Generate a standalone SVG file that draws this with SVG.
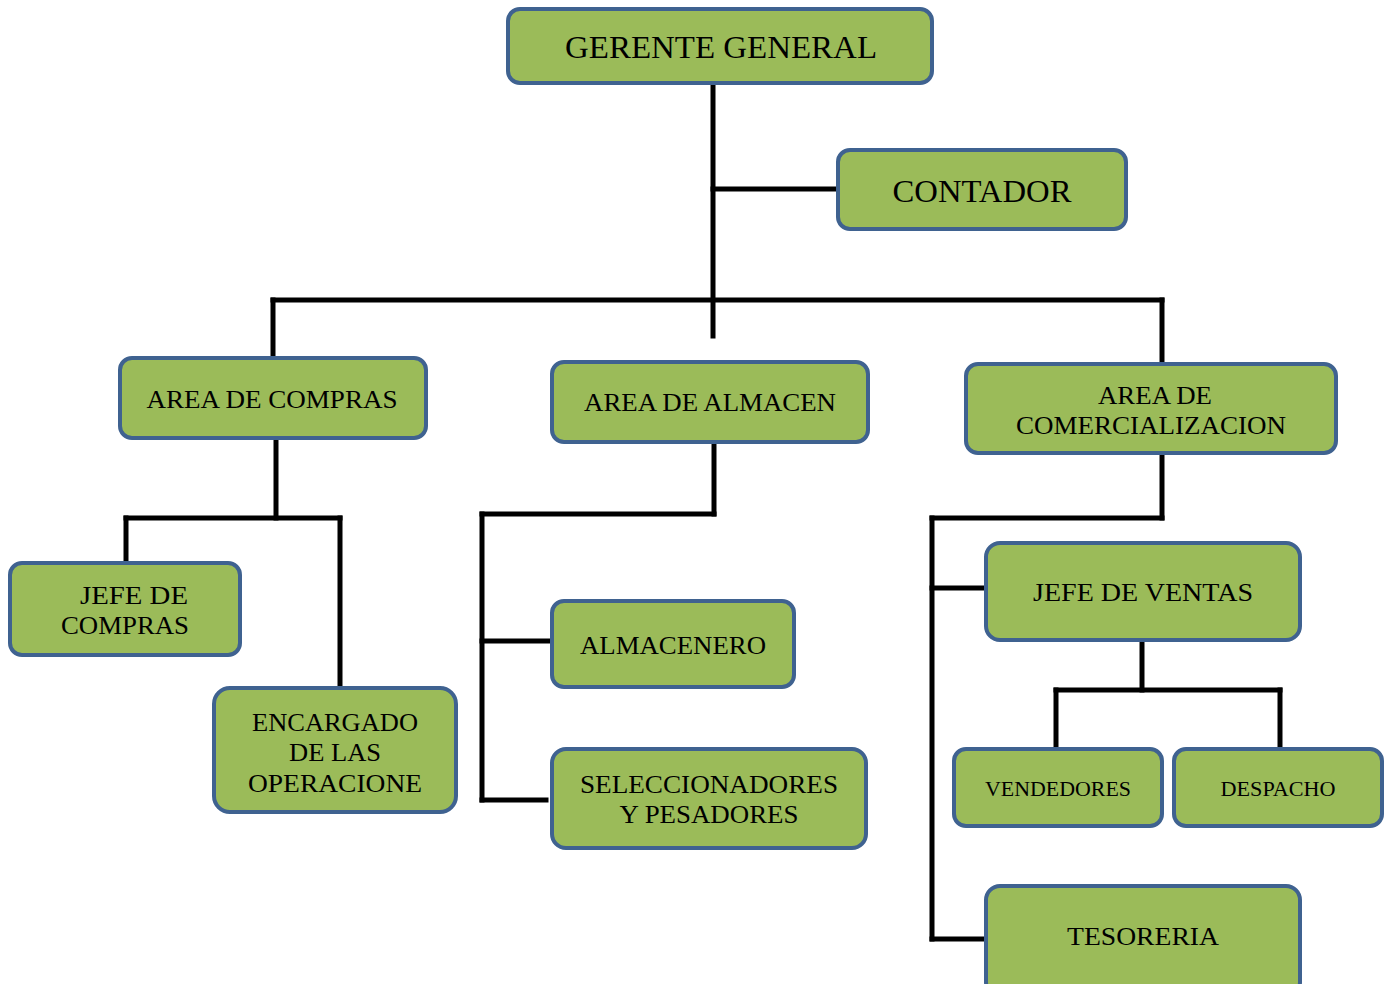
<svg xmlns="http://www.w3.org/2000/svg" width="1391" height="984" viewBox="0 0 1391 984">
<style>
.n{fill:#9BBB59;stroke:#3F6290;stroke-width:4}
.t{font-family:"Liberation Serif","Times New Roman",serif;fill:#000;text-anchor:middle}
.c line{stroke:#000;stroke-width:5;stroke-linecap:square}
</style>
<rect width="1391" height="984" fill="#fff"/>
<g class="c" id="connectors">
<line x1="713" y1="83" x2="713" y2="336"/>
<line x1="713" y1="189" x2="838" y2="189"/>
<line x1="273" y1="300" x2="1162" y2="300"/>
<line x1="273" y1="300" x2="273" y2="358"/>
<line x1="1162" y1="300" x2="1162" y2="364"/>
<line x1="276" y1="440" x2="276" y2="518"/>
<line x1="126" y1="518" x2="340" y2="518"/>
<line x1="126" y1="518" x2="126" y2="563"/>
<line x1="340" y1="518" x2="340" y2="688"/>
<line x1="714" y1="442" x2="714" y2="514"/>
<line x1="482" y1="514" x2="714" y2="514"/>
<line x1="482" y1="514" x2="482" y2="800"/>
<line x1="482" y1="641" x2="552" y2="641"/>
<line x1="482" y1="800" x2="546" y2="800"/>
<line x1="1162" y1="453" x2="1162" y2="518"/>
<line x1="932" y1="518" x2="1162" y2="518"/>
<line x1="932" y1="518" x2="932" y2="939"/>
<line x1="932" y1="588" x2="986" y2="588"/>
<line x1="932" y1="939" x2="986" y2="939"/>
<line x1="1142" y1="640" x2="1142" y2="690"/>
<line x1="1056" y1="690" x2="1280" y2="690"/>
<line x1="1056" y1="690" x2="1056" y2="749"/>
<line x1="1280" y1="690" x2="1280" y2="749"/>
</g>
<g id="gerente"><rect class="n" x="508" y="9" width="424" height="74" rx="12"/><text class="t" x="721" y="58" font-size="32" textLength="312" lengthAdjust="spacingAndGlyphs">GERENTE GENERAL</text></g>
<g id="contador"><rect class="n" x="838" y="150" width="288" height="79" rx="12"/><text class="t" x="982" y="202" font-size="32" textLength="179" lengthAdjust="spacingAndGlyphs">CONTADOR</text></g>
<g id="area-compras"><rect class="n" x="120" y="358" width="306" height="80" rx="12"/><text class="t" x="272" y="408" font-size="26" textLength="251" lengthAdjust="spacingAndGlyphs">AREA DE COMPRAS</text></g>
<g id="area-almacen"><rect class="n" x="552" y="362" width="316" height="80" rx="12"/><text class="t" x="710" y="411" font-size="26" textLength="252" lengthAdjust="spacingAndGlyphs">AREA DE ALMACEN</text></g>
<g id="area-comercializacion"><rect class="n" x="966" y="364" width="370" height="89" rx="12"/><text class="t" x="1155" y="404" font-size="26" textLength="114" lengthAdjust="spacingAndGlyphs">AREA DE</text><text class="t" x="1151" y="434" font-size="26" textLength="270" lengthAdjust="spacingAndGlyphs">COMERCIALIZACION</text></g>
<g id="jefe-compras"><rect class="n" x="10" y="563" width="230" height="92" rx="12"/><text class="t" x="134" y="604" font-size="26" textLength="108" lengthAdjust="spacingAndGlyphs">JEFE DE</text><text class="t" x="125" y="634" font-size="26" textLength="128" lengthAdjust="spacingAndGlyphs">COMPRAS</text></g>
<g id="encargado"><rect class="n" x="214" y="688" width="242" height="124" rx="16"/><text class="t" x="335" y="731" font-size="26" textLength="166" lengthAdjust="spacingAndGlyphs">ENCARGADO</text><text class="t" x="335" y="761" font-size="26" textLength="92" lengthAdjust="spacingAndGlyphs">DE LAS</text><text class="t" x="335" y="792" font-size="26" textLength="174" lengthAdjust="spacingAndGlyphs">OPERACIONE</text></g>
<g id="almacenero"><rect class="n" x="552" y="601" width="242" height="86" rx="12"/><text class="t" x="673" y="654" font-size="26" textLength="186" lengthAdjust="spacingAndGlyphs">ALMACENERO</text></g>
<g id="seleccionadores"><rect class="n" x="552" y="749" width="314" height="99" rx="14"/><text class="t" x="709" y="793" font-size="26" textLength="258" lengthAdjust="spacingAndGlyphs">SELECCIONADORES</text><text class="t" x="709" y="823" font-size="26" textLength="179" lengthAdjust="spacingAndGlyphs">Y PESADORES</text></g>
<g id="jefe-ventas"><rect class="n" x="986" y="543" width="314" height="97" rx="14"/><text class="t" x="1143" y="601" font-size="26" textLength="220" lengthAdjust="spacingAndGlyphs">JEFE DE VENTAS</text></g>
<g id="vendedores"><rect class="n" x="954" y="749" width="208" height="77" rx="12"/><text class="t" x="1058" y="796" font-size="20" textLength="146" lengthAdjust="spacingAndGlyphs">VENDEDORES</text></g>
<g id="despacho"><rect class="n" x="1174" y="749" width="208" height="77" rx="12"/><text class="t" x="1278" y="796" font-size="20" textLength="115" lengthAdjust="spacingAndGlyphs">DESPACHO</text></g>
<g id="tesoreria"><rect class="n" x="986" y="886" width="314" height="110" rx="14"/><text class="t" x="1143" y="945" font-size="26" textLength="152" lengthAdjust="spacingAndGlyphs">TESORERIA</text></g>
</svg>
